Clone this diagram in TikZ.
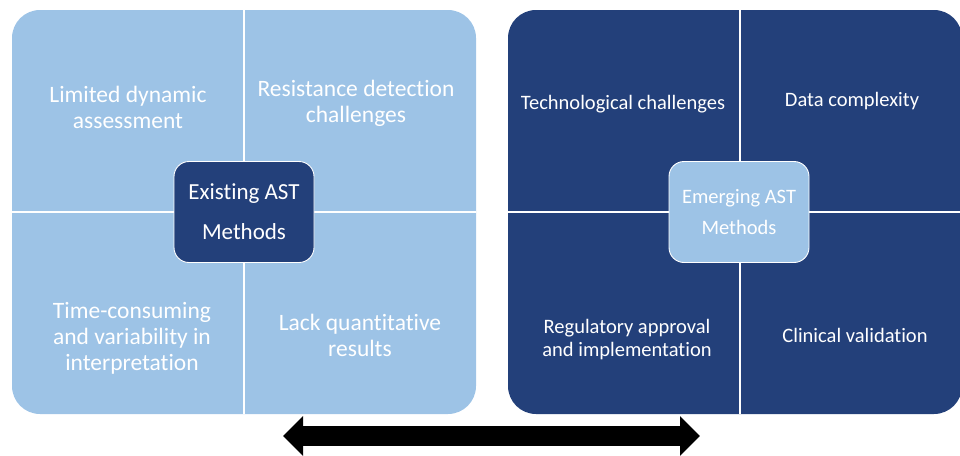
\documentclass[tikz,border=0pt]{standalone}
\usepackage{fontspec}
\setmainfont{Carlito}[Ligatures=NoCommon,Contextuals=NoAlternate]
\usetikzlibrary{arrows.meta,positioning}
\definecolor{lightpanel}{HTML}{9DC3E6}
\definecolor{darkpanel}{HTML}{23407A}

\begin{document}
\begin{tikzpicture}[x=1pt,y=-1pt]
			\tikzset{
				panel/.style={rounded corners=28pt},
				divider/.style={white,line width=1.2pt},
				hub/.style={draw=white,line width=0.9pt,rounded corners=15pt,minimum width=140pt,minimum height=101pt,align=center,text=white},
				bigtext/.style={align=center,text=white,font=\fontsize{23.5}{26}\selectfont},
				smalltext/.style={align=center,text=white,font=\fontsize{20.5}{23}\selectfont}
			}
			\useasboundingbox (0,0) rectangle (960,455);
			% left panel
			\fill[panel,lightpanel] (12,10) rectangle (476,414);
			\draw[divider] (244,10) -- (244,414) (12,212) -- (476,212);
			% right panel
			\fill[panel,darkpanel] (508,10) rectangle (962,414);
			\draw[divider] (740,10) -- (740,414) (508,212) -- (962,212);
			% hubs
			\node[hub,fill=darkpanel,font=\fontsize{23}{40}\selectfont] (existing) at (244,212) {Existing AST\\Methods};
			\node[hub,fill=lightpanel,font=\fontsize{20.5}{31}\selectfont] (emerging) at (739,212) {Emerging AST\\Methods};
			% quadrants, existing
			\node[bigtext] (dynamic) at (128,107) {Limited dynamic\\assessment};
			\node[bigtext] (resist) at (356,103) {Resistance detection\\challenges};
			\node[bigtext] (timecons) at (132,338) {Time-consuming\\and variability in\\interpretation};
			\node[bigtext] (quant) at (360,335) {Lack quantitative\\results};
			% quadrants, emerging
			\node[smalltext] (techno) at (623,104) {Technological challenges};
			\node[smalltext] (datacx) at (852,101) {Data complexity};
			\node[smalltext] (regul) at (627,340) {Regulatory approval\\and implementation};
			\node[smalltext] (clinic) at (855,335) {Clinical validation};
			% arrow between both
			\coordinate (arrl) at (283,436);
			\coordinate (arrr) at (700,436);
			\draw[line width=20pt,{Triangle[length=20pt,width=38.5pt]}-{Triangle[length=20pt,width=38.5pt]}] (arrl) -- (arrr);
		\end{tikzpicture}
\end{document}
